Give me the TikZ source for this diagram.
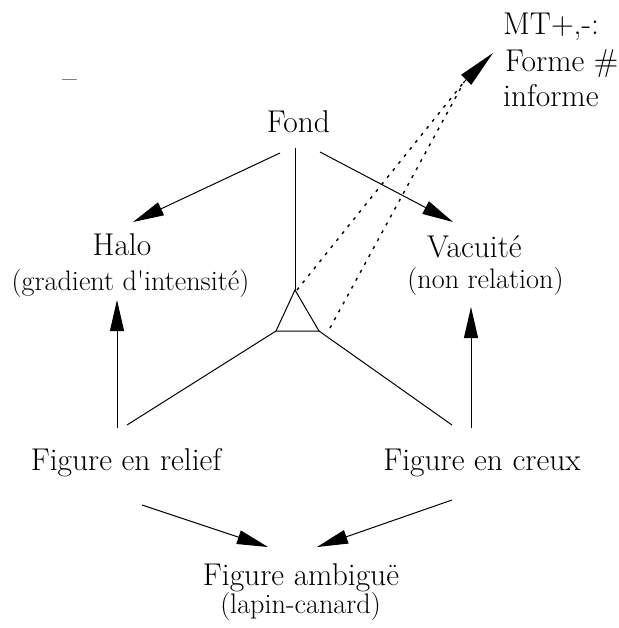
\documentclass[tikz,border=0pt]{standalone}
\usetikzlibrary{arrows.meta}
\begin{document}
\begin{tikzpicture}[x=1pt,y=-1pt,
  lbl/.style={font=\fontsize{31.5}{37}\selectfont, inner sep=0pt, anchor=base},
  sublbl/.style={font=\fontsize{28.2}{33}\selectfont, inner sep=0pt, anchor=base},
  ln/.style={line width=1pt},
  arr/.style={line width=1pt, -{Triangle[length=31pt,width=14pt]}},
  dotln/.style={line width=1.4pt, dash pattern=on 3pt off 6pt}]
\useasboundingbox (0,0) rectangle (618,628);
% labels
\node[lbl] (fond) at (298.5,133) {Fond};
\node[lbl] (halo) at (122,255) {Halo};
\node[sublbl] (halosub) at (130.5,290) {(gradient d\textquotesingle intensité)};
\node[lbl] (vac) at (474.5,257) {Vacuité};
\node[sublbl] (vacsub) at (485.5,288) {(non relation)};
\node[lbl] (relief) at (126,470) {Figure en relief};
\node[lbl] (creux) at (482,470) {Figure en creux};
\node[lbl] (amb) at (301,585) {Figure ambiguë};
\node[sublbl] (ambsub) at (300.5,613) {(lapin-canard)};
\node[lbl,anchor=base west] (mtA) at (503,35) {MT+,-:};
\node[lbl,anchor=base west] (mtB) at (505,72) {Forme \#};
\node[lbl,anchor=base west] (mtC) at (503,107) {informe};
\node[lbl] (dashmark) at (69.5,89) {--};
% triangle
\coordinate (apex) at (295,290);
\coordinate (bl) at (276,331);
\coordinate (br) at (319,331);
\draw[ln] (apex) -- (bl) -- (br) -- cycle;
% from Fond
\coordinate (fondB) at (295,148);
\draw[ln] (fondB) -- (apex);
\coordinate (fondL) at (280,153);
\coordinate (haloT) at (133,222);
\draw[arr] (fondL) -- (haloT);
\coordinate (fondR) at (320,152);
\coordinate (vacT) at (453,222);
\draw[arr] (fondR) -- (vacT);
% triangle to figures
\coordinate (reliefT) at (127,425);
\coordinate (creuxT) at (452,425);
\draw[ln] (bl) -- (reliefT);
\draw[ln] (br) -- (creuxT);
% figures up to Halo / Vacuite
\coordinate (reliefA) at (117,428);
\coordinate (haloB) at (117,300);
\draw[arr] (reliefA) -- (haloB);
\coordinate (creuxA) at (471,428);
\coordinate (vacB) at (471,307);
\draw[arr] (creuxA) -- (vacB);
% figures down to ambigue
\coordinate (reliefB) at (142,505);
\coordinate (ambL) at (268,547);
\draw[arr] (reliefB) -- (ambL);
\coordinate (creuxB) at (452,500);
\coordinate (ambR) at (317,547);
\draw[arr] (creuxB) -- (ambR);
% dotted lines to MT
\coordinate (dotA) at (297,290);
\coordinate (dotB) at (330,328);
\coordinate (mtBase) at (464,82);
\coordinate (mtTip) at (493,53);
\draw[dotln] (dotA) -- (mtBase);
\draw[dotln] (dotB) -- (mtBase);
\draw[line width=1pt,-{Triangle[length=38pt,width=14pt]}] (mtBase) -- (mtTip);
\end{tikzpicture}
\end{document}
